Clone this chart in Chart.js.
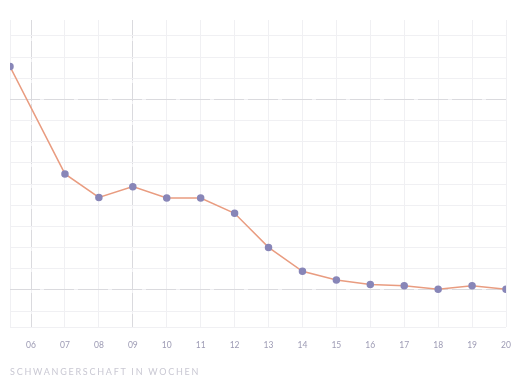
<!DOCTYPE html>
<html>
<head>
<meta charset="utf-8">
<script src="https://cdn.jsdelivr.net/npm/chart.js@4/dist/chart.umd.min.js"></script>
<style>
  html, body { margin: 0; padding: 0; background: #fff; }
  #wrap { position: relative; width: 512px; height: 384px; }
  #axisTitle {
    position: absolute; left: 10px; top: 366px;
    font: 9px Lato, sans-serif; letter-spacing: 1.75px; color: #c9c8d3;
  }
</style>
</head>
<body>
<div id="wrap">
  <canvas id="c" width="512" height="384"></canvas>
  <div id="axisTitle">SCHWANGERSCHAFT IN WOCHEN</div>
</div>
<script>
// ---- data ----
const weeks = [5.38, 7, 8, 9, 10, 11, 12, 13, 14, 15, 16, 17, 18, 19, 20];
const values = [11.55, 6.48, 5.37, 5.88, 5.34, 5.34, 4.62, 3.01, 1.88, 1.47, 1.26, 1.20, 1.03, 1.20, 1.03];
const weekTicks = [6, 7, 8, 9, 10, 11, 12, 13, 14, 15, 16, 17, 18, 19, 20];
const gridTicks = [0, 1, 2, 3, 4, 5, 6, 7, 8, 9, 10, 11, 12, 13];
const markWeeks = [6, 9];
const markLevels = [1, 10];

const X_MIN = 5.38, X_MAX = 20, Y_MIN = -0.75, Y_MAX = 13.75;

const lightGrid = '#f0f0f3';
const darkGrid = '#dadade';

const setTicks = list => axis => { axis.ticks = list.map(v => ({ value: v })); };
// keep helper axes from taking any room
const noRoom = s => {
  if (s.isHorizontal()) s.height = 0; else s.width = 0;
  s.paddingLeft = s.paddingRight = s.paddingTop = s.paddingBottom = 0;
};

new Chart(document.getElementById('c').getContext('2d'), {
  type: 'line',
  data: {
    datasets: [{
      data: weeks.map((w, i) => ({ x: w, y: values[i] })),
      borderColor: '#e99c80', borderWidth: 1.5,
      pointBackgroundColor: '#8886b8', pointBorderColor: '#8886b8',
      pointRadius: 3, tension: 0,
    }]
  },
  options: {
    responsive: false, animation: false,
    layout: { padding: { left: 10, right: 6, top: 20, bottom: 35 } },
    plugins: { legend: { display: false }, tooltip: { enabled: false } },
    scales: {
      x: {
        type: 'linear', min: X_MIN, max: X_MAX,
        afterBuildTicks: setTicks([X_MIN, ...weekTicks]),
        afterFit: s => { s.height = 22; s.paddingLeft = s.paddingRight = 0; },
        grid: { color: lightGrid, drawTicks: false },
        border: { display: false },
        ticks: {
          autoSkip: false, maxRotation: 0, padding: 13,
          color: '#9d9bb4', font: { size: 8.5, family: 'Lato' },
          callback: v => v < 6 ? '' : String(v).padStart(2, '0'),
        },
      },
      xd: {
        type: 'linear', position: 'bottom', min: X_MIN, max: X_MAX,
        afterBuildTicks: setTicks(markWeeks),
        afterFit: noRoom,
        grid: { color: darkGrid, drawTicks: false },
        border: { display: false, dash: [18, 3] },
        ticks: { display: false },
      },
      y: {
        min: Y_MIN, max: Y_MAX,
        afterBuildTicks: setTicks([Y_MIN, ...gridTicks]),
        afterFit: noRoom,
        grid: { color: lightGrid, drawTicks: false },
        border: { display: false },
        ticks: { display: false },
      },
      yd: {
        position: 'left', min: Y_MIN, max: Y_MAX,
        afterBuildTicks: setTicks(markLevels),
        afterFit: noRoom,
        grid: { color: darkGrid, drawTicks: false },
        border: { display: false, dash: [30, 4] },
        ticks: { display: false },
      },
    }
  }
});
</script>
</body>
</html>
